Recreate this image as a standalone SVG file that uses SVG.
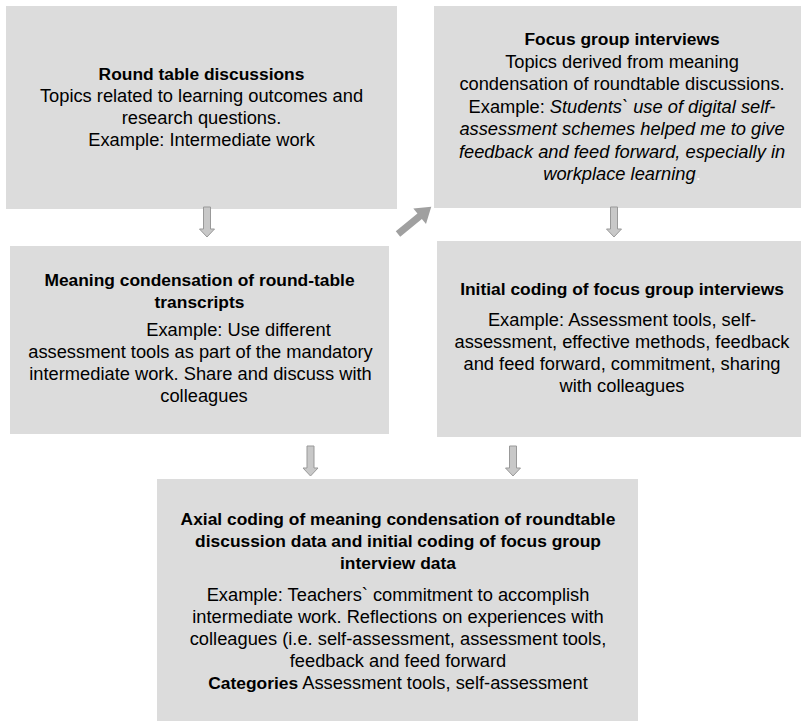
<svg xmlns="http://www.w3.org/2000/svg" width="801" height="723" viewBox="0 0 801 723">
<style>
.box{fill:#dcdcdc}
text{font-family:"Liberation Sans",Arial,sans-serif;font-size:18.3px;fill:#000;text-anchor:middle}
.b{font-weight:bold;font-size:17.4px}
.i{font-style:italic}
.harrow{fill:#c8c8c8;stroke:#999;stroke-width:1}
.sarrow{fill:#a0a0a0}
</style>
<defs>
<path id="down" d="M-3.5,0 H3.5 V22 H7.5 L0,30 L-7.5,22 H-3.5 Z"/>
</defs>
<rect width="801" height="723" fill="#fff"/>
<g id="round-table">
<rect class="box" x="6" y="6" width="391" height="203"/>
<text x="201.5" y="80" class="b">Round table discussions</text>
<text x="201.5" y="102">Topics related to learning outcomes and</text>
<text x="201.5" y="124">research questions.</text>
<text x="201.5" y="146">Example: Intermediate work</text>
</g>
<g id="focus-group">
<rect class="box" x="434" y="6" width="367" height="202"/>
<text x="622" y="45" class="b">Focus group interviews</text>
<text x="622" y="68">Topics derived from meaning</text>
<text x="622" y="90">condensation of roundtable discussions.</text>
<text x="622" y="113">Example: <tspan class="i">Students` use of digital self-</tspan></text>
<text x="622" y="135" class="i">assessment schemes helped me to give</text>
<text x="622" y="158" class="i">feedback and feed forward, especially in</text>
<text x="622" y="180" class="i">workplace learning<tspan fill="#fff" font-style="normal">.</tspan></text>
</g>
<g id="meaning-condensation">
<rect class="box" x="10" y="246" width="379" height="188"/>
<text x="199.5" y="286" class="b">Meaning condensation of round-table</text>
<text x="199.5" y="308" class="b">transcripts</text>
<text x="238.5" y="336">Example: Use different</text>
<text x="200.5" y="358">assessment tools as part of the mandatory</text>
<text x="200.5" y="380">intermediate work. Share and discuss with</text>
<text x="204" y="402">colleagues</text>
</g>
<g id="initial-coding">
<rect class="box" x="437" y="241" width="364" height="196"/>
<text x="622" y="295" class="b">Initial coding of focus group interviews</text>
<text x="622" y="326">Example: Assessment tools, self-</text>
<text x="622" y="348">assessment, effective methods, feedback</text>
<text x="622" y="370">and feed forward, commitment, sharing</text>
<text x="622" y="392">with colleagues</text>
</g>
<g id="axial-coding">
<rect class="box" x="157" y="479" width="481" height="242"/>
<text x="398" y="525" class="b">Axial coding of meaning condensation of roundtable</text>
<text x="398" y="547" class="b">discussion data and initial coding of focus group</text>
<text x="398" y="569" class="b">interview data</text>
<text x="398" y="601">Example: Teachers` commitment to accomplish</text>
<text x="398" y="623">intermediate work. Reflections on experiences with</text>
<text x="398" y="645">colleagues (i.e. self-assessment, assessment tools,</text>
<text x="398" y="667">feedback and feed forward</text>
<text x="398" y="689"><tspan font-weight="bold" font-size="17.4px">Categories</tspan> Assessment tools, self-assessment</text>
</g>
<g id="connectors">
<use href="#down" class="harrow" x="207" y="207"/>
<use href="#down" class="harrow" x="614" y="207"/>
<use href="#down" class="harrow" x="310.5" y="446"/>
<use href="#down" class="harrow" x="513" y="446"/>
<path class="sarrow" transform="translate(398,234) rotate(-39.3)" d="M0,-3.5 H28 V-10 L43,0 L28,10 V3.5 H0 Z"/>
</g>
</svg>
